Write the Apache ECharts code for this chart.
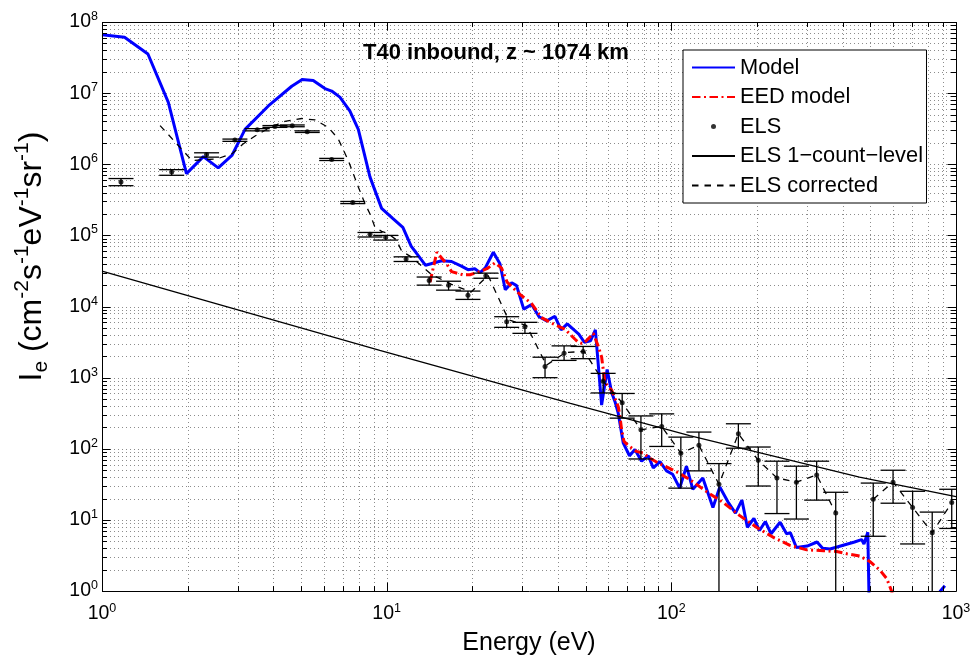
<!DOCTYPE html>
<html><head><meta charset="utf-8">
<script src="https://cdn.jsdelivr.net/npm/echarts@6/dist/echarts.min.js"></script>
<style>html,body{margin:0;padding:0;background:#fff}#c{width:975px;height:662px}</style>
</head><body><div id="c"></div>
<script>
const FONT = '"Liberation Sans", Arial, Helvetica, sans-serif';
const xMin = 1, xMax = 1000, yMin = 1, yMax = 1e8;
const xMajorTicks = [1, 10, 100, 1000];
const yMajorTicks = [1, 10, 100, 1e3, 1e4, 1e5, 1e6, 1e7, 1e8];
const minorMultipliers = [2, 3, 4, 5, 6, 7, 8, 9];
const titleText = 'T40 inbound, z ~ 1074 km';

// Model (blue)
const modelE = [1.0, 1.2, 1.45, 1.71, 1.98, 2.27, 2.56, 2.86, 3.18, 3.84, 4.64, 5.05, 5.52, 6.07, 6.41, 6.85, 7.43, 7.95, 8.74, 9.6,
  10.5, 11.4, 12.2, 12.7, 13.7, 15.6, 16.9, 18.3, 19.3, 20.4, 21.3, 22.2, 23.7, 25.0, 26.1, 27.5, 28.6, 30.3, 32.3, 34.3,
  36.5, 39.0, 41.0, 43.1, 47.3, 49.5, 52.0, 54.1, 56.9, 59.5, 61.7, 63.4, 65.1, 67.8, 71.3, 74.5, 78.6, 83.0, 86.4, 91.2,
  96.2, 101, 107, 113, 119, 129, 140, 148, 158, 168, 177, 185, 195, 204, 214, 224, 241, 254, 262, 275,
  300, 325, 340, 361, 385, 440, 466, 475, 490, 505, 700, 877, 914];
const modelI = [6.6e7, 6.1e7, 3.55e7, 7.4e6, 7.4e5, 1.28e6, 8.9e5, 1.33e6, 3.1e6, 6.6e6, 1.25e7, 1.56e7, 1.51e7, 1.16e7, 1.07e7, 8.8e6, 5.6e6, 3.1e6, 6.6e5, 2.4e5,
  1.74e5, 1.3e5, 7.0e4, 5.7e4, 3.8e4, 4.4e4, 4.3e4, 3.7e4, 3.3e4, 3.4e4, 3.0e4, 3.5e4, 5.8e4, 4.0e4, 1.72e4, 2.16e4, 1.97e4, 9.2e3, 1.07e4, 7.2e3,
  6.3e3, 7.3e3, 4.7e3, 5.7e3, 4.1e3, 3.15e3, 3.3e3, 4.7e3, 413, 1.3e3, 620, 460, 315, 120, 80, 98, 67, 80, 54, 66,
  49, 44, 28, 57, 27, 39, 15, 29, 18, 12.5, 19, 7.9, 10.5, 7.1, 9.5, 6.4, 9.3, 6.4, 6.6, 4.1,
  4.3, 4.9, 4.0, 3.9, 4.2, 4.9, 5.3, 4.6, 6.7, 0.01, null, 0.98, 1.19];

// EED model (red dash-dot)
const eedE = [14.2, 15.0, 16.3, 16.9, 18.5, 19.6, 21.3, 22.5, 24.0, 25.3, 26.5, 29.4, 32.3, 35.0, 38.5, 42.3, 45.8, 47.1, 49.0, 51.0,
  53.2, 55.3, 56.9, 57.6, 58.4, 60.0, 61.7, 63.4, 65.1, 66.0, 66.9, 68.2, 70.6, 75.5, 79.7, 84, 90, 95, 106, 116,
  133, 152, 174, 199, 228, 261, 299, 342, 381, 413, 460, 499, 541, 571, 594, 620];
const eedI = [2.2e4, 5.8e4, 3.9e4, 3.1e4, 2.8e4, 2.8e4, 3.1e4, 3.4e4, 4.1e4, 3.5e4, 2.2e4, 1.48e4, 1.1e4, 7.0e3, 5.7e3, 4.8e3, 3.5e3, 3.15e3, 3.0e3, 3.5e3,
  4.2e3, 2.8e3, 1.95e3, 1.34e3, 870, 743, 668, 510, 391, 284, 185, 127, 111, 92, 87, 74, 63, 57, 46, 37,
  25, 17.6, 11.5, 7.9, 5.7, 4.4, 3.8, 3.7, 3.6, 3.35, 3.1, 2.6, 1.96, 1.5, 1.0, 0.5];

// ELS data with error bars (null low = extends below axis)
const elsE = [1.166, 1.757, 2.33, 2.93, 3.51, 4.05, 4.66, 5.26, 6.41, 7.60, 8.74, 9.92, 11.7, 14.1, 16.5, 19.3, 22.3, 26.4, 30.6, 36.0,
  42.0, 49.0, 57.6, 67.2, 78.2, 92.5, 108, 125, 147, 172, 202, 235, 275, 324, 378, 512, 601, 704, 825, 966];
const elsI = [5.65e5, 7.8e5, 1.37e6, 2.19e6, 3.06e6, 3.4e6, 3.47e6, 2.87e6, 1.17e6, 2.9e5, 1.04e5, 9.4e4, 4.67e4, 2.33e4, 2.0e4, 1.44e4, 2.7e4, 6.1e3, 5.2e3, 1.44e3,
  2.2e3, 2.34e3, 893, 445, 185, 206, 87, 112, 31.7, 163, 69, 39, 34, 43, 12.5, 19.6, 34, 15, 6.6, 17.6];
const elsLo = [5.0e5, 7.0e5, 1.26e6, 2.1e6, 2.95e6, 3.3e6, 3.37e6, 2.8e6, 1.13e6, 2.8e5, 9.5e4, 8.6e4, 4.3e4, 2.0e4, 1.7e4, 1.26e4, 2.5e4, 5.1e3, 4.2e3, 1.0e3,
  1.75e3, 1.85e3, 610, 270, 72, 108, 28, 49, null, 102, 30, 12.3, 10.3, 19, null, 5.9, 17.2, 4.6, null, 7.6];
const elsHi = [6.3e5, 8.4e5, 1.45e6, 2.26e6, 3.17e6, 3.5e6, 3.57e6, 2.95e6, 1.21e6, 3.0e5, 1.1e5, 1.0e5, 5.0e4, 2.6e4, 2.27e4, 1.65e4, 2.95e4, 7.2e3, 6.0e3, 1.94e3,
  2.8e3, 2.75e3, 1.15e3, 600, 290, 310, 146, 172, 62, 225, 106, 67, 57, 67, 24.5, 33, 50, 25.3, 12.9, 27];

// ELS 1-count level
const countE = [1, 9.46, 44.2, 116, 458, 1000];
const countI = [3.14e4, 2.42e3, 435, 153, 40, 21.3];

// ELS corrected (dashed)
const corrE = [1.60, 2.07, 2.53, 2.86, 3.13, 3.45, 3.89, 4.39, 5.03, 5.60, 6.24, 6.76, 7.33, 7.63, 7.95, 8.39, 8.74, 9.08, 9.60, 10.1,
  10.8, 11.3, 12.2, 14.4, 16.9, 19.8, 22.7, 26.8, 31.0, 36.4, 42.4, 49.4, 57.6, 67.2, 78.2, 92.5, 108, 125, 147, 172,
  202, 235, 275, 324, 378, 440, 512, 601, 704, 825, 966];
const corrI = [3.5e6, 1.13e6, 1.19e6, 1.4e6, 1.93e6, 2.5e6, 3.3e6, 4.0e6, 4.4e6, 4.2e6, 3.3e6, 2.27e6, 1.13e6, 7.4e5, 4.8e5, 2.8e5, 2.0e5, 1.33e5, 1.14e5, 1.07e5,
  8.7e4, 6.0e4, 5.0e4, 2.8e4, 2.05e4, 1.6e4, 2.75e4, 6.5e3, 5.4e3, 1.5e3, 2.25e3, 2.35e3, 893, 445, 185, 206, 87, 112, 31.7, 163,
  69, 39, 34, 43, 12.5, null, 19.6, 34, 15, 6.6, 17.6];

const names = ['Model', 'EED model', 'ELS', 'ELS 1\u2212count\u2212level', 'ELS corrected'];

const pairs = (xs, ys) => xs.map((x, i) => [x, ys[i]]);
const buildTicks = majors => {
  const out = majors.map(v => [v, 1]);
  majors.slice(0, -1).forEach(m => minorMultipliers.forEach(k => out.push([m * k, 0])));
  return out;
};
const xTicks = buildTicks(xMajorTicks);
const yTicks = buildTicks(yMajorTicks);

const MAJ = 8.5, MIN = 5;
function frameItems(api, withGrid) {
  const bl = api.coord([xMin, yMin]);
  const tr = api.coord([xMax, yMax]);
  const L = bl[0], B = bl[1], R = tr[0], T = tr[1];
  const children = [];
  const gridStyle = { stroke: '#8c8c8c', lineWidth: 1, lineDash: [1, 3] };
  const tickStyle = { stroke: '#000', lineWidth: 1 };
  xTicks.forEach(([v, major]) => {
    const x = Math.round(api.coord([v, yMin])[0]) + 0.5;
    if (withGrid) {
      if (v > xMin && v < xMax) children.push({ type: 'line', shape: { x1: x, y1: T, x2: x, y2: B }, style: gridStyle });
    } else {
      const len = major ? MAJ : MIN;
      children.push({ type: 'line', shape: { x1: x, y1: B, x2: x, y2: B - len }, style: tickStyle });
      children.push({ type: 'line', shape: { x1: x, y1: T, x2: x, y2: T + len }, style: tickStyle });
    }
  });
  yTicks.forEach(([v, major]) => {
    const y = Math.round(api.coord([xMin, v])[1]) + 0.5;
    if (withGrid) {
      if (v > yMin && v < yMax) children.push({ type: 'line', shape: { x1: L, y1: y, x2: R, y2: y }, style: gridStyle });
    } else {
      const len = major ? MAJ : MIN;
      children.push({ type: 'line', shape: { x1: L, y1: y, x2: L + len, y2: y }, style: tickStyle });
      children.push({ type: 'line', shape: { x1: R, y1: y, x2: R - len, y2: y }, style: tickStyle });
    }
  });
  if (!withGrid) {
    children.push({ type: 'rect', shape: { x: Math.round(L) + 0.5, y: Math.round(T) + 0.5, width: Math.round(R - L), height: Math.round(B - T) },
      style: { fill: 'none', stroke: '#000', lineWidth: 1 } });
  }
  return { type: 'group', children };
}

const errData = elsE.map((e, i) => [e, elsI[i], elsLo[i] == null ? yMin : elsLo[i], elsHi[i], elsLo[i] == null ? 0 : 1]);
const CAP = 12.5;

const labelRich = {
  b: { fontSize: 19.5, fontFamily: FONT, color: '#000', lineHeight: 24 },
  s: { fontSize: 12.5, fontFamily: FONT, color: '#000', lineHeight: 13, verticalAlign: 'top' }
};
const powLabel = v => '{b|10}{s|' + Math.round(Math.log10(v)) + '}';
const hideSym = { color: 'transparent', borderWidth: 0, opacity: 0 };

const option = {
  animation: false,
  backgroundColor: '#fff',
  textStyle: { fontFamily: FONT },
  title: {
    text: titleText, left: 363, top: 42, padding: 0,
    textStyle: { fontSize: 22, fontWeight: 'bold', fontFamily: FONT, color: '#000' }
  },
  grid: { left: 102, right: 19, top: 22, bottom: 66, containLabel: false },
  legend: {
    orient: 'vertical', left: 683, top: 50, z: 20,
    data: [
      { name: names[0], itemStyle: hideSym },
      { name: names[1], itemStyle: hideSym },
      { name: names[2], icon: 'circle' },
      { name: names[3], itemStyle: hideSym },
      { name: names[4], itemStyle: hideSym }
    ],
    itemWidth: 43, itemHeight: 5, itemGap: 5.5,
    padding: [5.5, 3.5, 5.5, 8],
    backgroundColor: '#fff', borderColor: '#000', borderWidth: 1, borderRadius: 0,
    textStyle: { fontSize: 21.8, fontFamily: FONT, color: '#000', lineHeight: 24 },
    selectedMode: false
  },
  xAxis: {
    type: 'log', logBase: 10, min: xMin, max: xMax, interval: 1,
    axisLine: { show: false }, axisTick: { show: false }, splitLine: { show: false }, minorTick: { show: false },
    axisLabel: { formatter: powLabel, rich: labelRich, margin: 11, showMinLabel: true, showMaxLabel: true },
    name: 'Energy (eV)', nameLocation: 'middle', nameGap: 35,
    nameTextStyle: { fontSize: 25, fontFamily: FONT, color: '#000', lineHeight: 28 }
  },
  yAxis: {
    type: 'log', logBase: 10, min: yMin, max: yMax, interval: 1,
    axisLine: { show: false }, axisTick: { show: false }, splitLine: { show: false }, minorTick: { show: false },
    axisLabel: { formatter: powLabel, rich: labelRich, margin: 4, showMinLabel: true, showMaxLabel: true },
    name: '{m|I}{sub|e}{m| (cm}{sup|-2}{m|s}{sup|-1}{m|eV}{sup|-1}{m|sr}{sup|-1}{m|)}',
    nameLocation: 'middle', nameRotate: 90, nameGap: 50,
    nameTextStyle: {
      fontSize: 32, fontFamily: FONT, color: '#000', padding: [0, 0, 0, 100],
      rich: {
        m: { fontSize: 32, fontFamily: FONT, color: '#000', lineHeight: 40 },
        sup: { fontSize: 21, fontFamily: FONT, color: '#000', lineHeight: 21, verticalAlign: 'top' },
        sub: { fontSize: 21, fontFamily: FONT, color: '#000', lineHeight: 21, verticalAlign: 'bottom' }
      }
    }
  },
  series: [
    { type: 'custom', name: 'gridlines', silent: true, z: 1, clip: false, data: [[xMin, yMin]],
      renderItem: (p, api) => frameItems(api, true) },
    { type: 'line', name: names[0], data: pairs(modelE, modelI), symbol: 'none', z: 3, clip: true,
      lineStyle: { color: '#0000ff', width: 3 }, itemStyle: { color: '#0000ff' } },
    { type: 'line', name: names[1], data: pairs(eedE, eedI), symbol: 'none', z: 4, clip: true,
      lineStyle: { color: '#ff0000', width: 3, type: [8.5, 3.5, 2, 3.5] }, itemStyle: { color: '#ff0000' } },
    { type: 'line', name: names[3], data: pairs(countE, countI), symbol: 'none', z: 5, clip: true,
      lineStyle: { color: '#000', width: 1.3 }, itemStyle: { color: '#000' } },
    { type: 'line', name: names[4], data: pairs(corrE, corrI), symbol: 'none', z: 5, clip: true,
      lineStyle: { color: '#000', width: 1.3, type: [6.5, 6] }, itemStyle: { color: '#000' } },
    { type: 'custom', name: 'errorbars', silent: true, z: 6, clip: true, data: errData,
      renderItem: (p, api) => {
        const x = api.value(0), lo = api.value(2), hi = api.value(3), hasLo = api.value(4);
        const pHi = api.coord([x, hi]);
        const pLo = api.coord([x, lo]);
        const st = { stroke: '#000', lineWidth: 1.3 };
        const ch = [
          { type: 'line', shape: { x1: pHi[0], y1: pLo[1], x2: pHi[0], y2: pHi[1] }, style: st },
          { type: 'line', shape: { x1: pHi[0] - CAP, y1: pHi[1], x2: pHi[0] + CAP, y2: pHi[1] }, style: st }
        ];
        if (hasLo) ch.push({ type: 'line', shape: { x1: pLo[0] - CAP, y1: pLo[1], x2: pLo[0] + CAP, y2: pLo[1] }, style: st });
        return { type: 'group', children: ch };
      } },
    { type: 'scatter', name: names[2], data: pairs(elsE, elsI), symbol: 'circle', symbolSize: 5, z: 7,
      itemStyle: { color: '#000' } },
    { type: 'custom', name: 'frame', silent: true, z: 10, clip: false, data: [[xMin, yMin]],
      renderItem: (p, api) => frameItems(api, false) }
  ]
};
const chart = echarts.init(document.getElementById('c'));
chart.setOption(option);
</script>
</body></html>
